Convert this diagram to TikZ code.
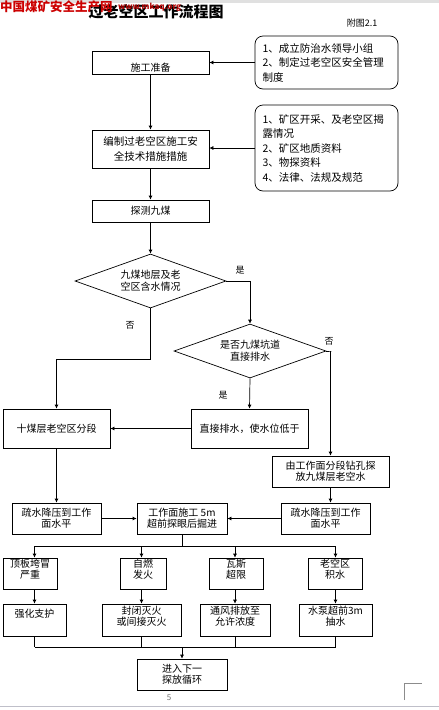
\documentclass[tikz,border=0pt]{standalone}
\usepackage{fontspec}
\setmainfont{Noto Sans CJK SC}
\usetikzlibrary{shapes.geometric,arrows.meta}
\begin{document}
\begin{tikzpicture}[x=1pt,y=-1pt,
  box/.style={draw,line width=0.7pt,inner sep=1pt,align=center,font=\fontsize{10}{12.5}\selectfont},
  sbox/.style={draw,line width=0.7pt,inner sep=1pt,align=center,font=\fontsize{10}{11}\selectfont},
  rbox/.style={draw,rounded corners=8pt,line width=0.7pt,align=left,font=\fontsize{10.5}{14.5}\selectfont,inner sep=0pt},
  dia/.style={draw,diamond,shape aspect=2.8,inner sep=0pt,line width=0.7pt,align=center,font=\fontsize{10}{12}\selectfont},
  arr/.style={line width=0.7pt,-{Latex[length=4pt,width=4pt]}},
  ln/.style={line width=0.7pt},
  lab/.style={font=\fontsize{9}{9}\selectfont,inner sep=0pt}]
\useasboundingbox (0,0) rectangle (439,710);
\fill[white] (0,0) rectangle (439,710);
\fill[black!12] (0,0) rectangle (439,3);
\draw[blue!15!black!25,line width=1pt] (0,706) -- (439,706);
% title and header
\node[font=\fontsize{15}{15}\selectfont\bfseries,inner sep=0pt] (title) at (156,12) {过老空区工作流程图};
\node[font=\fontsize{12.5}{12.5}\selectfont\bfseries,text=red!80!black,inner sep=0pt,anchor=west] (wm) at (0,7) {中国煤矿安全生产网};
\node[font=\fontsize{8}{8}\selectfont\bfseries,text=red!70!black,inner sep=0pt,anchor=west] (wm2) at (118,7) {www.mkaq.org};
\node[font=\fontsize{9}{9}\selectfont,inner sep=0pt] (fig) at (362,23) {附图2.1};
% boxes
\node[box,minimum width=117pt,minimum height=23pt] (prep) at (150.5,62.5) {};
\node[font=\fontsize{10}{10}\selectfont,inner sep=0pt] (preptxt) at (150.5,68) {施工准备};
\node[rbox,minimum width=143pt,minimum height=53pt,text width=128pt] (r1) at (326.5,62.5) {1、成立防治水领导小组\\2、制定过老空区安全管理\\制度};
\node[box,minimum width=117pt,minimum height=38pt,font=\fontsize{10.5}{15}\selectfont] (plan) at (150.5,149) {编制过老空区施工安\\全技术措施措施};
\node[rbox,minimum width=143pt,minimum height=86pt,text width=128pt] (r2) at (326.5,148) {1、矿区开采、及老空区揭\\露情况\\2、矿区地质资料\\3、物探资料\\4、法律、法规及规范};
\node[box,minimum width=117pt,minimum height=22pt] (detect) at (150.5,211) {探测九煤};
\node[dia,minimum width=151pt,minimum height=54pt] (dA) at (150.5,281) {九煤地层及老\\空区含水情况};
\node[dia,minimum width=152pt,minimum height=54pt] (dB) at (250,351) {是否九煤坑道\\直接排水};
\node[box,minimum width=107pt,minimum height=39pt] (ten) at (56.5,428.5) {十煤层老空区分段};
\node[box,minimum width=117pt,minimum height=39pt] (direct) at (249.5,428.5) {直接排水，使水位低于};
\node[sbox,minimum width=117pt,minimum height=31pt] (face) at (330.5,471.5) {由工作面分段钻孔探\\放九煤层老空水};
\node[sbox,minimum width=89pt,minimum height=31pt] (drL) at (56.5,518.5) {疏水降压到工作\\面水平};
\node[sbox,minimum width=90pt,minimum height=31pt] (work) at (182,518.5) {工作面施工 5m\\超前探眼后掘进};
\node[sbox,minimum width=89pt,minimum height=31pt] (drR) at (325.5,518.5) {疏水降压到工作\\面水平};
\node[sbox,minimum width=54pt,minimum height=31pt] (t1) at (30,573.5) {顶板垮冒\\严重\\[-2pt]\mbox{}};
\node[sbox,minimum width=46pt,minimum height=31pt] (t2) at (143,573.5) {自燃\\发火\\[-2pt]\mbox{}};
\node[sbox,minimum width=54pt,minimum height=31pt] (t3) at (236,573.5) {瓦斯\\超限\\[-2pt]\mbox{}};
\node[sbox,minimum width=54pt,minimum height=31pt] (t4) at (335,573.5) {老空区\\积水\\[-2pt]\mbox{}};
\node[sbox,minimum width=63pt,minimum height=32pt] (u1) at (34.5,620) {强化支护\\[2pt]\mbox{}};
\node[sbox,minimum width=79pt,minimum height=32pt] (u2) at (141.5,620) {封闭灭火\\或间接灭火\\[-2pt]\mbox{}};
\node[sbox,minimum width=70pt,minimum height=32pt] (u3) at (235,620) {通风排放至\\允许浓度\\[-2pt]\mbox{}};
\node[sbox,minimum width=73pt,minimum height=32pt] (u4) at (335.5,620) {水泵超前3m\\抽水\\[-2pt]\mbox{}};
\node[sbox,minimum width=90pt,minimum height=31pt] (next) at (182,674.5) {进入下一\\探放循环};
% labels
\node[lab] (yes1) at (240,270) {是};
\node[lab] (no1) at (130,325) {否};
\node[lab] (no2) at (329,341) {否};
\node[lab] (yes2) at (223,395) {是};
% connectors
\draw[arr] (r1.west) -- (prep.east);
\draw[arr] (prep.south) -- (plan.north);
\draw[arr] (r2.west) -- (r2.west -| plan.east);
\draw[arr] (plan.south) -- (detect.north);
\draw[arr] (detect.south) -- (dA.north);
\draw[arr] (dA.east) -| (dB.north);
\draw[arr] (dA.south) -- ++(0,51) -| (ten.north);
\draw[arr] (dB.south) -- (direct.north);
\draw[arr] (dB.east) -- ++(5,0) -| (face.north);
\draw[arr] (direct.west) -- (ten.east);
\draw[arr] (ten.south) -- (drL.north);
\draw[arr] (face.south) -- (face.south |- drR.north);
\draw[arr] (drL.east) -- (work.west);
\draw[arr] (drR.west) -- (work.east);
\coordinate (busT) at (182,546);
\coordinate (busB) at (182,647);
\draw[ln] (work.south) -- (busT);
\draw[ln] (busT -| u1.north) -- (busT -| u4.north);
\foreach \u/\t in {u1/t1,u2/t2,u3/t3,u4/t4}{
  \draw[arr] (busT -| \u.north) -- (\u.north |- \t.north);
  \draw[arr] (\u.north |- \t.south) -- (\u.north);
  \draw[ln] (\u.south) -- (\u.south |- busB);
}
\draw[ln] (busB -| u1.south) -- (busB -| u4.south);
\draw[arr] (busB) -- (next.north);
% page marks
\node[font=\fontsize{8}{8}\selectfont,text=black!55,inner sep=0pt] (page) at (169,698) {5};
\draw[black!45,line width=0.6pt] (404,700) -- (404,683) -- (422,683);
\end{tikzpicture}
\end{document}
